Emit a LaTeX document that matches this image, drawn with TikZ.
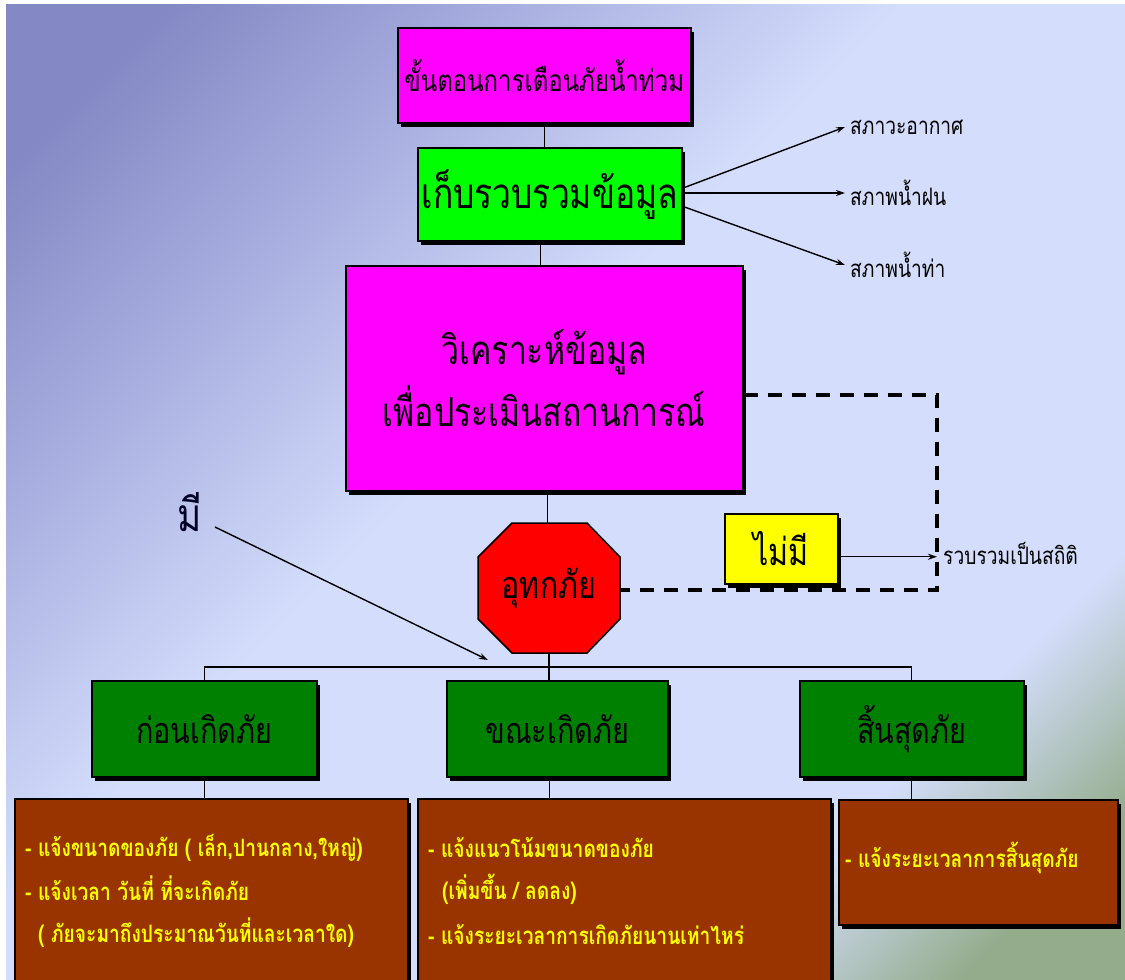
\documentclass[tikz,border=0pt]{standalone}
\usepackage{fontspec}
\setmainfont{Loma}[Script=Thai, FakeStretch=0.8]
\usetikzlibrary{arrows.meta,shadows,calc}
\definecolor{bgA}{HTML}{8488C4}
\definecolor{bgM}{HTML}{A6ACDE}
\definecolor{bgB}{HTML}{D4DEFC}
\definecolor{bgC}{HTML}{94AC8C}
\definecolor{mag}{HTML}{FF00FF}
\definecolor{lgreen}{HTML}{00FF00}
\definecolor{dgreen}{HTML}{008000}
\definecolor{brown}{HTML}{993300}
\definecolor{yel}{HTML}{FFFF00}
\pgfdeclarehorizontalshading{bgdiag}{100bp}{color(0bp)=(bgA); color(20bp)=(bgA); color(31bp)=(bgM); color(45bp)=(bgB); color(71bp)=(bgB); color(80bp)=(bgC); color(100bp)=(bgC)}
\begin{document}
\begin{tikzpicture}[x=1pt,y=-1pt,
  box/.style={draw=black, line width=1.5pt, inner sep=0pt, anchor=north west, align=center,
    general shadow={fill=black, shadow xshift=3pt, shadow yshift=-4pt}},
  conn/.style={draw=black, line width=1.3pt},
  arr/.style={draw=black, line width=1.4pt, -{Stealth[length=9pt,width=6pt]}},
  dline/.style={draw=black, line width=3.5pt, dash pattern=on 14pt off 10pt},
  lbl/.style={anchor=west, inner sep=0pt, font=\fontsize{24}{28}\selectfont},
  btxt/.style={anchor=west, inner sep=0pt, text=yel, font=\bfseries\fontsize{24}{27}\selectfont}
]
\useasboundingbox (0,0) rectangle (1125,980);
\fill[white] (0,0) rectangle (1125,980);
\shade[shading=bgdiag, shading angle=-45] (6,4) rectangle (1125,980);

% top chain
\node[box, fill=mag, minimum width=293pt, minimum height=95pt, font=\fontsize{30}{34}\selectfont] (title) at (397,27) {ขั้นตอนการเตือนภัยน้ำท่วม};
\node[box, fill=lgreen, minimum width=264pt, minimum height=93pt, font=\fontsize{42}{46}\selectfont] (collect) at (417,147) {เก็บรวบรวมข้อมูล};
\node[box, fill=mag, minimum width=397pt, minimum height=225pt, font=\fontsize{40}{62}\selectfont] (analyze) at (345,265) {วิเคราะห์ข้อมูล\\เพื่อประเมินสถานการณ์};

\draw[conn] (title.south) -- (title.south |- collect.north);
\draw[conn] ([xshift=-9pt]collect.south) -- ([xshift=-9pt]collect.south |- analyze.north);

% side labels
\node[lbl] (wx) at (850,127) {สภาวะอากาศ};
\node[lbl] (rain) at (850,193) {สภาพน้ำฝน};
\node[lbl] (flow) at (850,265) {สภาพน้ำท่า};
\draw[arr] ([yshift=6pt]collect.east) -- ([xshift=-5pt]wx.west);
\draw[arr] (collect.east |- rain.west) -- ([xshift=-5pt]rain.west);
\draw[arr] ([yshift=-12pt]collect.east) -- ([xshift=-5pt]flow.west);

% octagon
\draw[fill=red, line width=1.5pt] (512,523) -- (587,523) -- (620,557) -- (620,619) -- (587,653) -- (512,653) -- (478,619) -- (478,557) -- cycle;
\node[minimum width=142pt, minimum height=130pt, inner sep=0pt, font=\fontsize{38}{42}\selectfont] (oct) at (549,588) {อุทกภัย};
\draw[conn] ([xshift=3pt]analyze.south) -- ([xshift=3pt]analyze.south |- oct.north);

% no-branch
\node[box, fill=yel, minimum width=113pt, minimum height=70pt, font=\fontsize{38}{42}\selectfont] (nomi) at (724,513) {ไม่มี};
\coordinate (dc1) at (937,395);
\coordinate (dc2) at (937,590);
\draw[dline] ([yshift=-130pt]analyze.north east) -- (dc1) -- (dc2) -- (oct.east |- dc2);
\node[lbl] (stat) at (943,553) {รวบรวมเป็นสถิติ};
\draw[arr] ([yshift=-8pt]nomi.east) -- ([yshift=-8pt]nomi.east -| dc1);

% yes-branch
\node[inner sep=0pt, font=\fontsize{46}{50}\selectfont, text=black!85!blue] (mi) at (190,512) {มี};
\coordinate (miend) at (488,660);
\draw[arr] (215,527) -- (miend);

% phase boxes
\node[box, fill=dgreen, minimum width=225pt, minimum height=96pt, font=\fontsize{36}{40}\selectfont] (g1) at (91,680) {ก่อนเกิดภัย};
\node[box, fill=dgreen, minimum width=221pt, minimum height=96pt, font=\fontsize{36}{40}\selectfont] (g2) at (446,680) {ขณะเกิดภัย};
\node[box, fill=dgreen, minimum width=224pt, minimum height=96pt, font=\fontsize{36}{40}\selectfont] (g3) at (799,680) {สิ้นสุดภัย};
\coordinate (hl) at (549,667);
\draw[conn] (oct.south) -- (oct.south |- g2.north);
\draw[conn] (g1.north) -- (g1.north |- hl) -- (g3.north |- hl) -- (g3.north);

% detail boxes
\node[box, fill=brown, minimum width=393pt, minimum height=190pt] (b1) at (14,798) {};
\node[box, fill=brown, minimum width=413pt, minimum height=190pt] (b2) at (417,798) {};
\node[box, fill=brown, minimum width=279pt, minimum height=125pt] (b3) at (838,799) {};
\draw[conn] (g1.south) -- (g1.south |- b1.north);
\draw[conn] ([xshift=-8pt]g2.south) -- ([xshift=-8pt]g2.south |- b2.north);
\draw[conn] (g3.south) -- (g3.south |- b3.north);

\node[btxt] (b1a) at (25,848) {- แจ้งขนาดของภัย ( เล็ก,ปานกลาง,ใหญ่)};
\node[btxt] (b1b) at (25,888) {- แจ้งเวลา วันที่ ที่จะเกิดภัย};
\node[btxt] (b1c) at (38,933) {( ภัยจะมาถึงประมาณวันที่และเวลาใด)};
\node[btxt] (b2a) at (428,848) {- แจ้งแนวโน้มขนาดของภัย};
\node[btxt] (b2b) at (442,889) {(เพิ่มขึ้น / ลดลง)};
\node[btxt] (b2c) at (428,935) {- แจ้งระยะเวลาการเกิดภัยนานเท่าไหร่};
\node[btxt] (b3a) at (845,858) {- แจ้งระยะเวลาการสิ้นสุดภัย};
\end{tikzpicture}
\end{document}
